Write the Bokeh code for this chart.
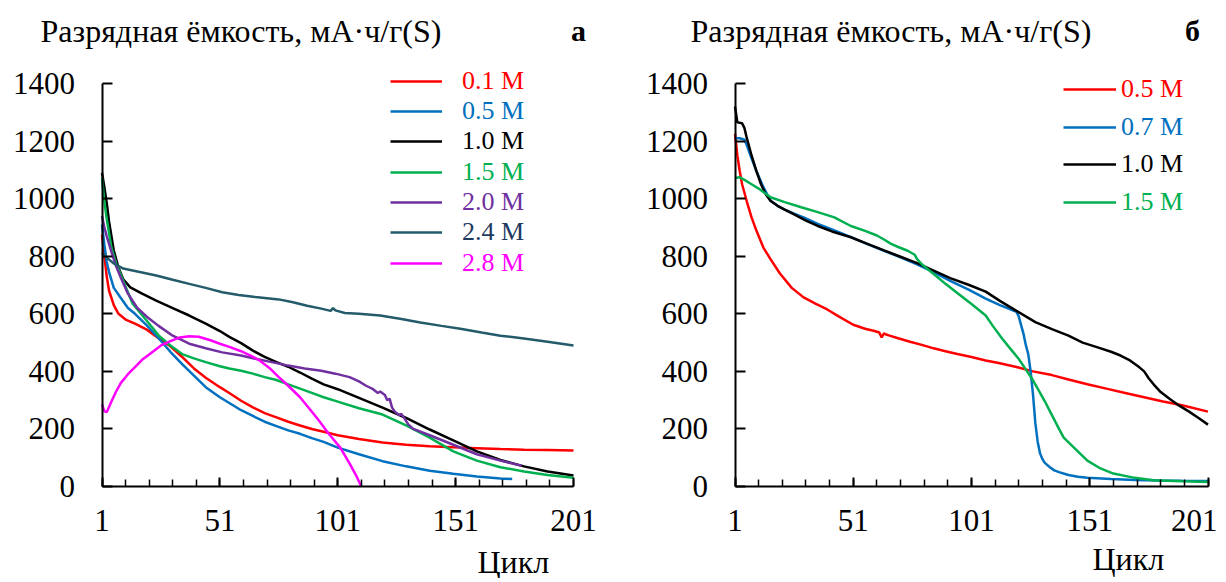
from bokeh.plotting import figure
from bokeh.layouts import row
from bokeh.models import Range1d, FixedTicker, Legend, LegendItem, Label
from bokeh.core.properties import value
from bokeh.embed import file_html
from bokeh.resources import INLINE

# ---------------- data: panel a ----------------
a_c_01 = [1,2,3,4,6,8,11,15,20,25,30,35,40,45,51,55,60,65,70,75,80,85,90,95,101,110,120,130,140,150,160,170,180,190,201]
a_v_01 = [875,800,730,680,630,600,580,566,545,515,487,450,410,378,345,325,298,275,255,240,225,212,200,190,178,165,153,145,140,136,133,130,128,127,125]

a_c_05 = [1,2,3,4,6,9,12,15,20,25,30,35,40,45,51,55,60,65,70,75,80,85,90,95,101,110,120,130,140,150,160,170,175]
a_v_05 = [910,840,780,745,690,655,620,600,560,515,468,425,385,345,310,290,265,245,225,210,195,183,168,155,135,112,88,70,55,44,35,28,26]

a_c_10 = [1,2,3,4,6,8,10,13,18,24,31,38,45,51,55,60,65,70,75,80,85,90,95,101,110,120,130,140,150,160,170,180,190,201]
a_v_10 = [1090,1040,985,920,820,760,720,692,670,646,620,594,566,540,520,498,472,450,432,416,396,375,355,338,308,274,238,198,160,122,92,70,52,38]

a_c_15 = [1,2,3,5,7,10,14,20,25,30,35,40,45,51,55,60,65,70,75,80,85,90,95,101,110,120,130,140,150,160,170,180,190,201]
a_v_15 = [1070,990,930,830,775,715,635,576,525,490,460,445,432,418,410,402,392,380,370,355,340,325,310,295,272,250,212,170,122,90,67,52,40,30]

a_c_20 = [1,2,3,5,7,9,12,16,20,25,31,38,45,52,60,66,73,80,87,94,100,106,110,113,116,118,119,121,122,123,124,125,127,128,129,131,133,140,150,160,170,179]
a_v_20 = [940,900,870,815,765,725,670,620,590,558,524,496,480,466,455,444,432,420,410,402,392,380,365,350,338,325,330,318,300,305,275,262,248,252,240,215,200,178,145,112,90,72]

a_c_24 = [1,3,6,10,17,24,31,38,45,52,59,66,76,82,88,94,98,99,100,104,110,119,128,136,145,153,162,170,180,190,201]
a_v_24 = [812,795,775,757,745,733,718,704,690,675,665,658,650,640,628,618,610,620,612,603,600,594,582,570,558,548,535,524,514,503,490]

a_c_28 = [1,2,3,5,7,9,12,15,18,22,26,30,34,38,42,47,51,55,60,64,68,72,76,80,85,89,93,97,102,106,109,111]
a_v_28 = [285,262,258,295,330,360,390,415,440,465,490,505,518,522,520,508,496,485,470,455,437,412,380,350,310,270,229,185,136,80,35,0]

# ---------------- data: panel б ----------------
b_c_05 = [1,2,3,4,6,8,10,13,16,20,25,30,35,40,45,51,56,60,62,63,64,65,66,70,75,80,85,90,95,101,107,113,120,127,135,142,150,158,166,174,182,190,201]
b_v_05 = [1225,1150,1095,1050,990,935,890,830,790,740,690,657,635,615,590,562,548,540,535,518,532,528,525,515,503,492,480,470,460,450,438,428,415,400,387,372,355,340,325,310,295,282,260]

b_c_07 = [1,3,5,6,8,10,13,16,19,22,26,30,36,42,50,57,64,71,78,85,92,100,107,113,120,121,122,123,124,125,126,127,128,129,130,131,132,134,136,138,142,146,150,160,170,180,190,201]
b_v_07 = [1210,1210,1205,1185,1140,1097,1040,993,975,962,948,935,912,893,866,842,819,796,772,745,714,683,653,630,607,590,560,530,490,460,400,320,220,155,115,95,82,68,56,50,40,34,30,26,23,21,20,19]

b_c_10 = [1,2,4,5,6,8,10,12,14,16,19,22,26,31,36,42,50,57,64,71,78,85,92,100,107,113,120,128,135,142,148,154,160,164,168,172,174,176,178,181,185,189,193,197,201]
b_v_10 = [1320,1265,1262,1245,1210,1150,1097,1050,1015,993,975,962,945,924,905,886,866,843,820,798,776,750,724,700,677,645,610,571,547,524,500,484,468,455,438,414,400,375,355,328,303,280,260,238,215]

b_c_15 = [1,3,5,8,11,16,22,29,36,43,50,56,61,64,67,70,74,77,78,80,85,90,95,101,107,110,114,118,121,124,127,130,132,135,138,140,144,150,155,161,170,178,190,201]
b_v_15 = [1072,1074,1065,1050,1035,1005,988,970,953,935,905,888,872,858,843,832,819,805,790,772,738,704,672,634,594,558,513,473,443,406,369,325,296,248,200,170,138,90,65,45,30,22,18,16]

a_labels = ["0.1 M", "0.5 M", "1.0 M", "1.5 M", "2.0 M", "2.4 M", "2.8 M"]
b_labels = ["0.5 M", "0.7 M", "1.0 M", "1.5 M"]
x_ticks = [1, 51, 101, 151, 201]
x_minor = list(range(1, 202, 10))
y_ticks = [0, 200, 400, 600, 800, 1000, 1200, 1400]
y_title = "Разрядная ёмкость, мА·ч/г(S)"
x_title = "Цикл"

RED, BLUE, BLACK, GREEN = "#FF0000", "#0070C0", "#000000", "#00B050"
PURPLE, TEAL, MAGENTA = "#7030A0", "#235B6B", "#FF00FF"
FONT = "Liberation Serif"
H = 578          # figure height (px)
Y0_PX, Y1400_PX = 486, 83   # page rows of value 0 and 1400


def make_fig(fig_left, width, x1_px, x201_px):
    sx = (x201_px - x1_px) / 200.0
    xs = 1 - (x1_px - fig_left) / sx
    sy = (Y0_PX - Y1400_PX) / 1400.0
    ys = -(H - Y0_PX) / sy
    p = figure(width=width, height=H,
               x_range=Range1d(xs, xs + width / sx), y_range=Range1d(ys, ys + H / sy),
               output_backend="svg", toolbar_location=None,
               min_border=0, min_border_left=0, min_border_right=0,
               min_border_top=0, min_border_bottom=0)
    p.outline_line_color = None
    p.xgrid.visible = False
    p.ygrid.visible = False
    p.background_fill_color = "white"
    p.border_fill_color = "white"
    xa, ya = p.xaxis[0], p.yaxis[0]
    xa.fixed_location = 0
    ya.fixed_location = 1
    xa.bounds = (1, 201)
    ya.bounds = (0, 1400)
    for ax in (xa, ya):
        ax.axis_line_width = 2
        ax.axis_line_color = "black"
        ax.major_tick_line_width = 2
        ax.major_tick_line_color = "black"
        ax.major_tick_out = 0
        ax.major_label_text_font = FONT
        ax.major_label_text_font_size = "31px"
        ax.major_label_text_color = "black"
    xa.ticker = FixedTicker(ticks=x_ticks, minor_ticks=x_minor)
    xa.major_tick_in = 9
    xa.minor_tick_in = 7
    xa.minor_tick_out = 0
    xa.minor_tick_line_width = 1.5
    xa.minor_tick_line_color = "black"
    xa.major_label_standoff = 23
    ya.ticker = FixedTicker(ticks=y_ticks)
    ya.major_tick_in = 10
    ya.minor_tick_line_color = None
    ya.major_label_standoff = 27
    return p


def add_legend(p, r, label, color, x, ybottom, gw, standoff):
    lg = Legend(items=[LegendItem(label=value(label), renderers=[r])], location=(x, ybottom),
                border_line_color=None, background_fill_alpha=0, padding=0, margin=0, spacing=0,
                glyph_width=gw, glyph_height=30, label_height=30, label_standoff=standoff,
                label_text_font=FONT, label_text_font_size="26px", label_text_color=color,
                label_text_baseline="middle")
    p.add_layout(lg)


def add_texts(p, tx, letter_x, cx, cy, letter):
    p.add_layout(Label(x=tx, y=H - 30, x_units="screen", y_units="screen", text=y_title,
                       text_font=FONT, text_font_size="32px", text_color="black",
                       text_baseline="middle", text_align="left"))
    p.add_layout(Label(x=letter_x, y=H - 30, x_units="screen", y_units="screen", text=letter,
                       text_font=FONT, text_font_size="30px", text_font_style="bold", text_color="black",
                       text_baseline="middle", text_align="center"))
    p.add_layout(Label(x=cx, y=H - cy, x_units="screen", y_units="screen", text=x_title,
                       text_font=FONT, text_font_size="32px", text_color="black",
                       text_baseline="middle", text_align="left"))


# ---------------- panel a ----------------
LEFT_A = 0
pa = make_fig(LEFT_A, 613, 101.5, 573)
a_series = [(a_c_01, a_v_01, RED, RED), (a_c_05, a_v_05, BLUE, BLUE), (a_c_10, a_v_10, BLACK, BLACK),
            (a_c_15, a_v_15, GREEN, GREEN), (a_c_20, a_v_20, PURPLE, PURPLE),
            (a_c_24, a_v_24, TEAL, "#1F3A5F"), (a_c_28, a_v_28, MAGENTA, MAGENTA)]
a_centers = [80.7, 111, 141.3, 171.6, 201.9, 232.2, 262.5]
for (cs, vs, col, tcol), lab, cy in zip(a_series, a_labels, a_centers):
    r = pa.line(cs, vs, line_color=col, line_width=2.5)
    add_legend(pa, r, lab, tcol, 390 - LEFT_A, H - cy - 15, 52, 20)
add_texts(pa, 40 - LEFT_A, 578 - LEFT_A, 477 - LEFT_A, 561, "а")

# ---------------- panel б ----------------
LEFT_B = 613
pb = make_fig(LEFT_B, 604, 734.5, 1207.5)
b_series = [(b_c_05, b_v_05, RED), (b_c_07, b_v_07, BLUE), (b_c_10, b_v_10, BLACK), (b_c_15, b_v_15, GREEN)]
b_centers = [89, 126.5, 164, 201.5]
for (cs, vs, col), lab, cy in zip(b_series, b_labels, b_centers):
    r = pb.line(cs, vs, line_color=col, line_width=2.5)
    add_legend(pb, r, lab, col, 1063 - LEFT_B, H - cy - 15, 53, 5)
add_texts(pb, 690 - LEFT_B, 1192 - LEFT_B, 1092 - LEFT_B, 558, "б")

layout = row(pa, pb)
open("out.html", "w").write(file_html(layout, INLINE))
